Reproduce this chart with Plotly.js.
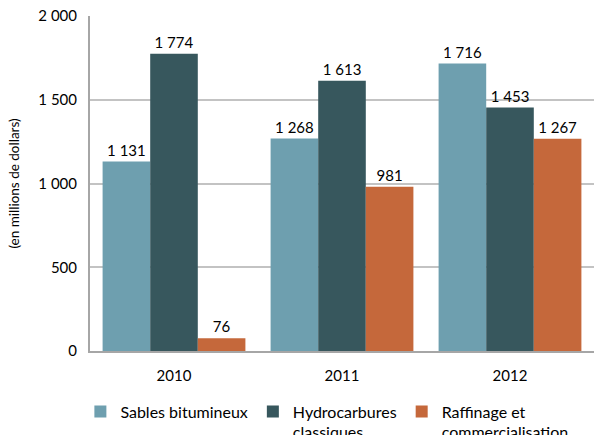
<!DOCTYPE html>
<html>
<head>
<meta charset="utf-8">
<script src="https://cdn.plot.ly/plotly-3.0.1.min.js"></script>
<style>html,body{margin:0;padding:0;background:#fff;}#chart{width:594px;height:435px;}</style>
</head>
<body>
<div id="chart"></div>
<script>
const years = ["2010", "2011", "2012"];
const seriesNames = ["Sables bitumineux", "Hydrocarbures<br>classiques", "Raffinage et<br>commercialisation"];
const sablesBitumineux = [1131, 1268, 1716];
const hydrocarbures = [1774, 1613, 1453];
const raffinage = [76, 981, 1267];
const yTickVals = [0, 500, 1000, 1500, 2000];
const colors = ["#6E9FAF", "#37575D", "#C5683B"];
const yTitle = "(en millions de dollars)";

const allSeries = [sablesBitumineux, hydrocarbures, raffinage];
const font = "Lato, 'Open Sans', sans-serif";

const traces = allSeries.map((vals, i) => ({
  type: "bar",
  name: seriesNames[i],
  x: years,
  y: vals,
  marker: {color: colors[i], line: {width: 0}},
  texttemplate: "%{y:,.0f}",
  textposition: "outside",
  cliponaxis: false,
  textfont: {family: font, size: 15, color: "#000"},
  hoverinfo: "none"
}));

const layout = {
  width: 594, height: 435,
  margin: {l: 90, r: 0, t: 16, b: 84, autoexpand: false},
  separators: ", ",
  paper_bgcolor: "#fff",
  plot_bgcolor: "#fff",
  barmode: "group",
  bargap: 0.15,
  bargroupgap: 0,
  font: {family: font, size: 15, color: "#000"},
  xaxis: {
    showline: true, linecolor: "#A6A6A6", linewidth: 2,
    ticks: "", showgrid: false, zeroline: false,
    tickfont: {family: font, size: 15, color: "#000"},
    ticklabelstandoff: 10
  },
  yaxis: {
    range: [0, 2000],
    tickvals: yTickVals,
    tickformat: ",d",
    showline: true, linecolor: "#A6A6A6", linewidth: 2,
    showgrid: true, gridcolor: "#C3C3C3", gridwidth: 2,
    zeroline: false, ticks: "",
    tickfont: {family: font, size: 15, color: "#000"},
    ticklabelstandoff: 8,
    title: {text: yTitle + "\u00a0\u00a0\u00a0\u00a0\u00a0\u00a0\u00a0", font: {family: font, size: 13.5, color: "#000"}, standoff: 16}
  },
  showlegend: true,
  legend: {
    orientation: "h",
    x: 0.47, xanchor: "center",
    y: -0.13, yanchor: "top",
    font: {family: font, size: 16, color: "#000"},
    itemwidth: 30,
    valign: "top",
    traceorder: "normal",
    tracegroupgap: 0
  }
};

Plotly.newPlot("chart", traces, layout, {staticPlot: true, displayModeBar: false});
</script>
</body>
</html>
